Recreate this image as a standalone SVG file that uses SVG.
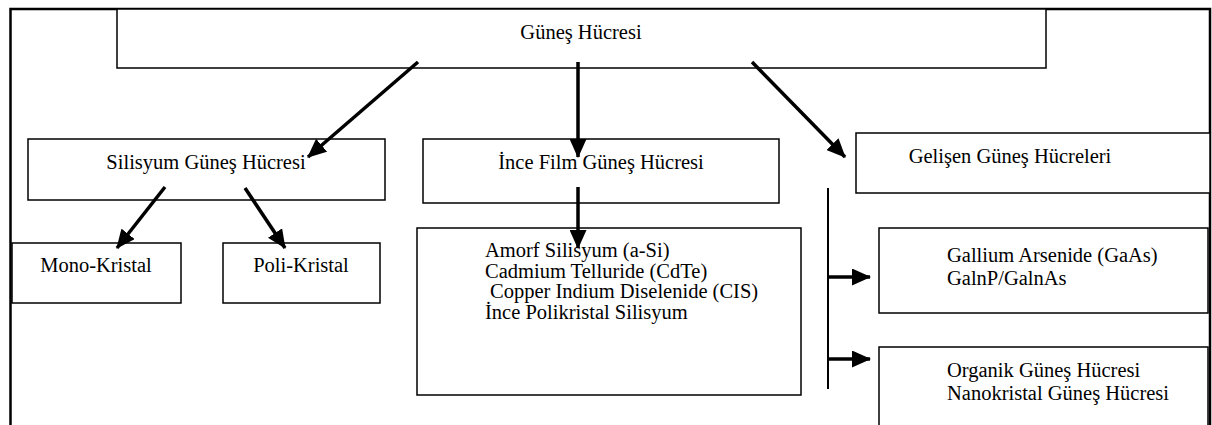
<svg xmlns="http://www.w3.org/2000/svg" width="1212" height="425" viewBox="0 0 1212 425">
<style>
.box{fill:#fff;stroke:#000;stroke-width:1.5}
.t{font-family:"Liberation Serif","Times New Roman",serif;font-size:20.5px;fill:#000}
.c{text-anchor:middle}
.arr{stroke:#000;stroke-width:3.5;fill:none;marker-end:url(#ah)}
.ln{stroke:#000;stroke-width:2;fill:none}
</style>
<defs>
<marker id="ah" markerUnits="userSpaceOnUse" markerWidth="19" markerHeight="17" refX="18" refY="8.5" orient="auto">
<path d="M0,0 L19,8.5 L0,17 z" fill="#000"/>
</marker>
</defs>
<g id="frame">
<path d="M10.5,425 L10.5,9 L1210,9 L1210,425" fill="none" stroke="#000" stroke-width="2.5"/>
</g>
<g id="gunes-hucresi">
<rect class="box" x="117" y="9" width="929" height="59"/>
<text class="t c" x="581" y="39">Güneş Hücresi</text>
</g>
<g id="silisyum">
<rect class="box" x="28" y="139" width="357" height="61"/>
<text class="t c" x="206" y="169">Silisyum Güneş Hücresi</text>
</g>
<g id="mono">
<rect class="box" x="12" y="243" width="169" height="60"/>
<text class="t c" x="96" y="272">Mono-Kristal</text>
</g>
<g id="poli">
<rect class="box" x="223" y="243" width="157" height="60"/>
<text class="t c" x="301" y="272">Poli-Kristal</text>
</g>
<g id="ince-film">
<rect class="box" x="423" y="139" width="356" height="64"/>
<text class="t c" x="601" y="169">İnce Film Güneş Hücresi</text>
</g>
<g id="ince-list">
<rect class="box" x="417" y="228" width="384" height="167"/>
<text class="t" x="485" y="257">Amorf Silisyum (a-Si)</text>
<text class="t" x="485" y="278">Cadmium Telluride (CdTe)</text>
<text class="t" x="490" y="298">Copper Indium Diselenide (CIS)</text>
<text class="t" x="485" y="319">İnce Polikristal Silisyum</text>
</g>
<g id="gelisen">
<rect class="box" x="856" y="133" width="354" height="60"/>
<text class="t c" x="1010" y="163">Gelişen Güneş Hücreleri</text>
</g>
<g id="gaas">
<rect class="box" x="879" y="228" width="329" height="85"/>
<text class="t" x="947" y="262">Gallium Arsenide (GaAs)</text>
<text class="t" x="947" y="285">GalnP/GalnAs</text>
</g>
<g id="organik">
<rect class="box" x="879" y="347" width="329" height="90"/>
<text class="t" x="947" y="377">Organik Güneş Hücresi</text>
<text class="t" x="947" y="400">Nanokristal Güneş Hücresi</text>
</g>
<g id="connectors">
<line class="arr" x1="418" y1="62" x2="308" y2="157"/>
<line class="arr" x1="578" y1="62" x2="578" y2="157"/>
<line class="arr" x1="752" y1="62" x2="845" y2="157"/>
<line class="arr" x1="165" y1="187" x2="117" y2="248"/>
<line class="arr" x1="245" y1="188" x2="285" y2="248"/>
<line class="arr" x1="578" y1="187" x2="578" y2="248"/>
<line class="ln" x1="828" y1="188" x2="828" y2="389"/>
<line class="arr" x1="828" y1="277" x2="870" y2="277"/>
<line class="arr" x1="828" y1="359" x2="870" y2="359"/>
</g>
</svg>
